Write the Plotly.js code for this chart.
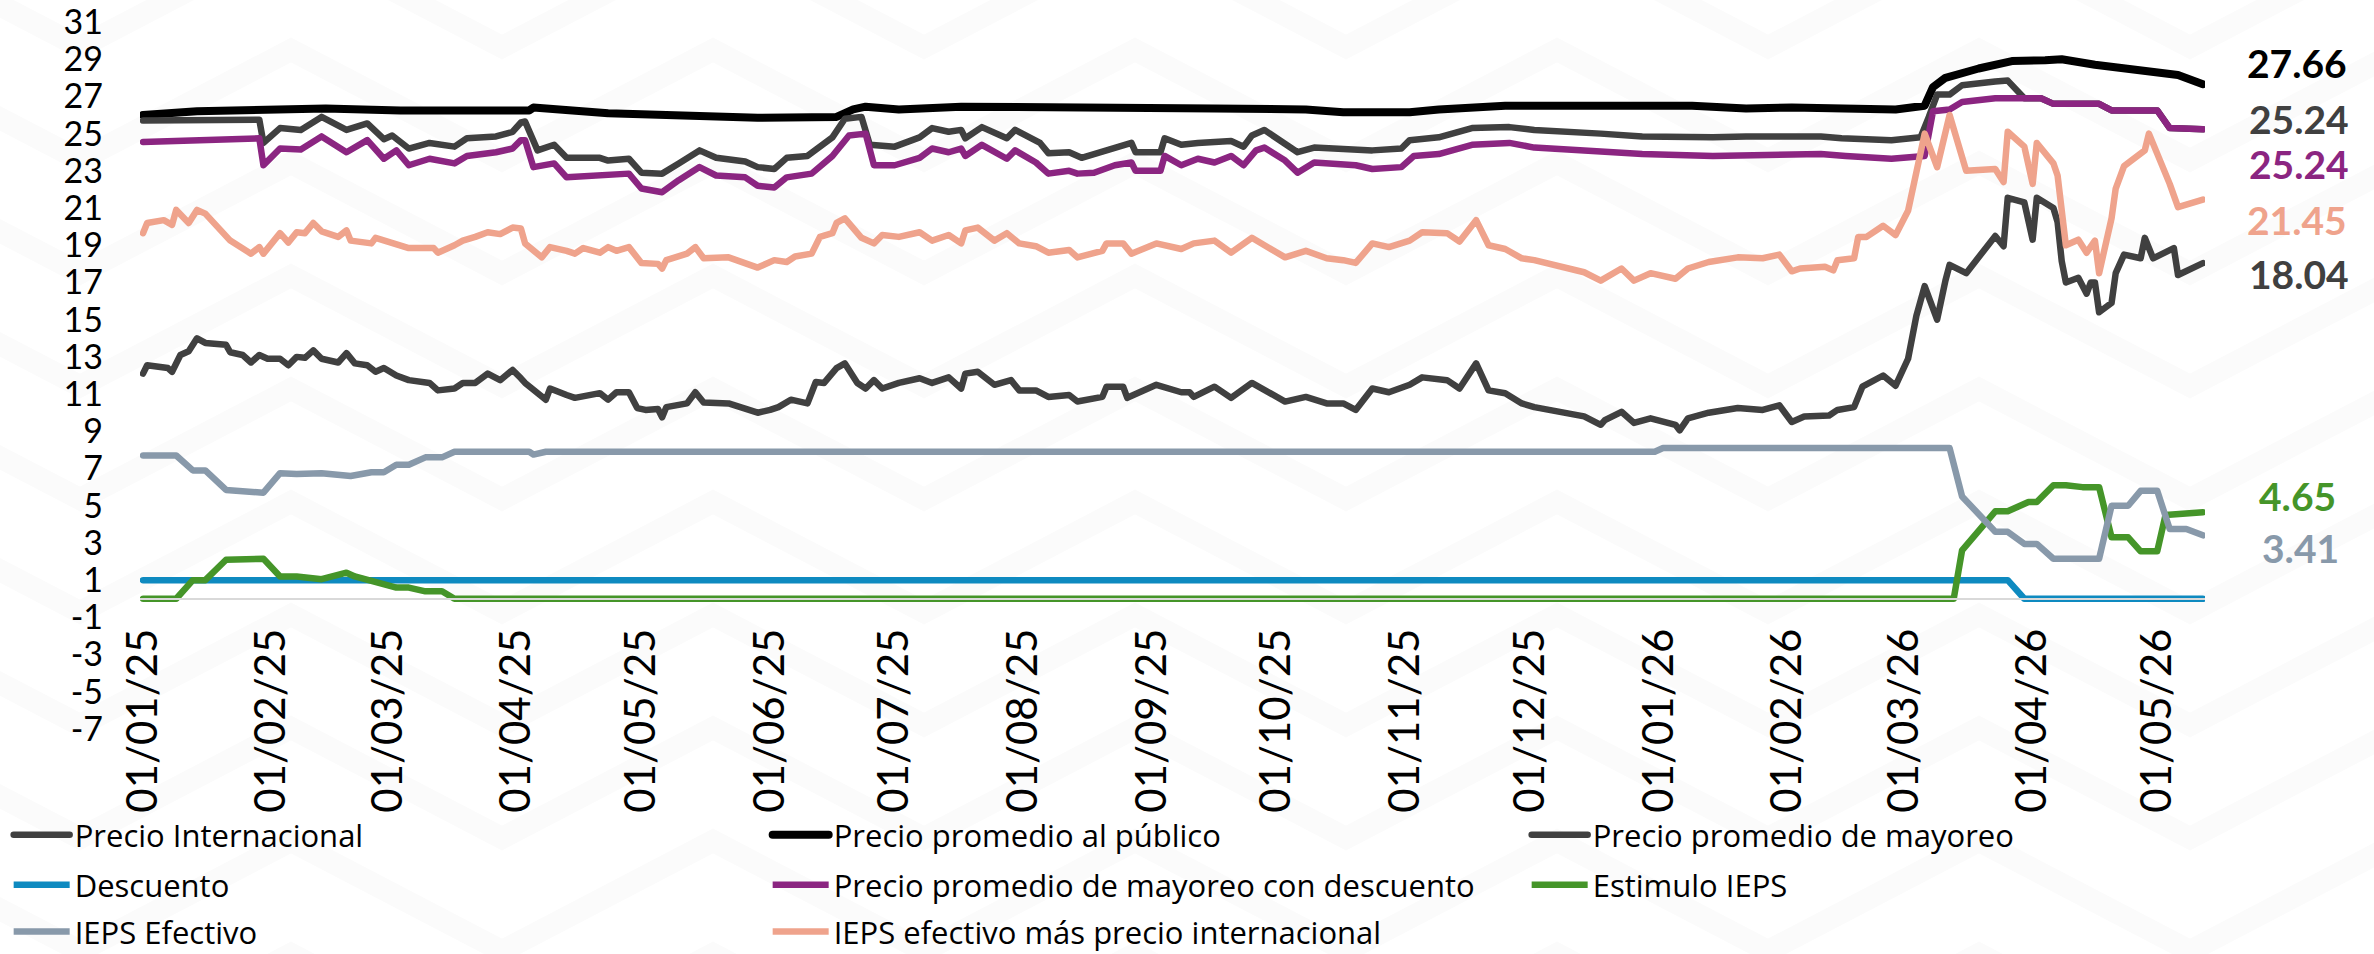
<!DOCTYPE html>
<html><head><meta charset="utf-8">
<script src="https://cdn.plot.ly/plotly-3.0.1.min.js"></script>
<style>
html,body{margin:0;padding:0;background:#fff;}
#chart{width:2374px;height:954px;}
.scatterlayer .js-line{stroke-linejoin:round;stroke-linecap:round;}
.legend .js-line{stroke-linecap:round;}
</style></head><body><div id="chart"></div>
<script>
// ---------- DATA ----------
const seriesNames = ["Precio Internacional","Precio promedio al público","Precio promedio de mayoreo","Descuento","Precio promedio de mayoreo con descuento","Estimulo IEPS","IEPS Efectivo","IEPS efectivo más precio internacional"];
const seriesColors = ["#404040","#000000","#404040","#0e8ac0","#8b2581","#459529","#8899aa","#efa38c"];

const fechasInternacional = ["2025-01-01","2025-01-02","2025-01-07","2025-01-08","2025-01-10","2025-01-12","2025-01-14","2025-01-16","2025-01-21","2025-01-22","2025-01-25","2025-01-27","2025-01-29","2025-01-31","2025-02-03","2025-02-05","2025-02-07","2025-02-09","2025-02-11","2025-02-13","2025-02-17","2025-02-19","2025-02-21","2025-02-24","2025-02-26","2025-02-28","2025-03-03","2025-03-06","2025-03-11","2025-03-13","2025-03-17","2025-03-19","2025-03-22","2025-03-25","2025-03-28","2025-03-31","2025-04-02","2025-04-03","2025-04-08","2025-04-09","2025-04-13","2025-04-15","2025-04-21","2025-04-23","2025-04-25","2025-04-28","2025-04-30","2025-05-02","2025-05-05","2025-05-06","2025-05-07","2025-05-12","2025-05-14","2025-05-16","2025-05-22","2025-05-29","2025-06-01","2025-06-03","2025-06-06","2025-06-10","2025-06-12","2025-06-14","2025-06-17","2025-06-19","2025-06-22","2025-06-24","2025-06-26","2025-06-28","2025-07-02","2025-07-07","2025-07-10","2025-07-14","2025-07-17","2025-07-18","2025-07-21","2025-07-25","2025-07-29","2025-07-31","2025-08-04","2025-08-07","2025-08-12","2025-08-14","2025-08-20","2025-08-21","2025-08-25","2025-08-26","2025-09-02","2025-09-08","2025-09-10","2025-09-11","2025-09-16","2025-09-20","2025-09-25","2025-10-03","2025-10-08","2025-10-13","2025-10-17","2025-10-20","2025-10-24","2025-10-28","2025-11-02","2025-11-05","2025-11-11","2025-11-14","2025-11-18","2025-11-21","2025-11-25","2025-11-29","2025-12-02","2025-12-10","2025-12-14","2025-12-18","2025-12-19","2025-12-23","2025-12-26","2025-12-30","2026-01-05","2026-01-06","2026-01-08","2026-01-13","2026-01-20","2026-01-26","2026-01-30","2026-02-02","2026-02-05","2026-02-11","2026-02-13","2026-02-17","2026-02-19","2026-02-24","2026-02-27","2026-03-02","2026-03-04","2026-03-06","2026-03-09","2026-03-11","2026-03-12","2026-03-16","2026-03-19","2026-03-23","2026-03-25","2026-03-26","2026-03-30","2026-04-01","2026-04-02","2026-04-06","2026-04-07","2026-04-08","2026-04-09","2026-04-12","2026-04-14","2026-04-15","2026-04-16","2026-04-17","2026-04-20","2026-04-21","2026-04-23","2026-04-27","2026-04-28","2026-04-30","2026-05-05","2026-05-06","2026-05-12"];
const precioInternacional = [12.1,12.55,12.4,12.2,13.1,13.3,14.0,13.75,13.65,13.25,13.1,12.7,13.1,12.9,12.9,12.55,13.0,12.95,13.35,12.9,12.7,13.2,12.65,12.55,12.2,12.4,12.0,11.75,11.6,11.2,11.3,11.6,11.6,12.1,11.75,12.3,11.85,11.6,10.7,11.3,10.95,10.8,11.05,10.7,11.1,11.1,10.25,10.15,10.2,9.75,10.3,10.5,11.1,10.55,10.5,10.0,10.15,10.3,10.7,10.5,11.65,11.6,12.4,12.65,11.6,11.3,11.75,11.3,11.6,11.85,11.6,11.9,11.3,12.1,12.2,11.5,11.75,11.2,11.2,10.85,10.95,10.6,10.85,11.4,11.4,10.8,11.5,11.1,11.1,10.85,11.4,10.8,11.6,10.6,10.85,10.5,10.5,10.15,11.3,11.1,11.5,11.9,11.75,11.3,12.65,11.2,11.05,10.5,10.3,10.0,9.8,9.35,9.6,10.05,9.45,9.7,9.35,9.05,9.7,10.0,10.25,10.15,10.4,9.5,9.8,9.85,10.15,10.3,11.4,12.0,11.45,12.9,15.2,16.8,15.0,17.1,17.95,17.5,18.4,19.5,18.95,21.55,21.3,19.3,21.55,21.0,20.25,18.15,17.0,17.25,16.4,17.0,17.0,15.4,15.9,17.5,18.5,18.3,19.4,18.3,18.85,17.4,18.04];

const fechasPublico = ["2025-01-01","2025-01-14","2025-02-14","2025-03-04","2025-04-04","2025-04-05","2025-04-23","2025-05-11","2025-05-29","2025-06-17","2025-06-21","2025-06-24","2025-07-02","2025-07-17","2025-08-16","2025-09-16","2025-10-08","2025-10-17","2025-11-02","2025-11-09","2025-11-25","2025-12-18","2026-01-09","2026-01-22","2026-02-02","2026-02-27","2026-03-06","2026-03-08","2026-03-11","2026-03-19","2026-03-27","2026-04-04","2026-04-08","2026-04-16","2026-04-24","2026-05-03","2026-05-06","2026-05-12"];
const precioPublico = [26.0,26.2,26.35,26.25,26.25,26.4,26.1,26.0,25.85,25.9,26.3,26.45,26.3,26.45,26.45,26.35,26.3,26.15,26.15,26.3,26.5,26.55,26.5,26.35,26.4,26.3,26.5,27.5,28.0,28.5,28.9,28.95,29.0,28.7,28.5,28.3,28.15,27.66];

const fechasMayoreo = ["2025-01-01","2025-01-27","2025-01-29","2025-01-30","2025-02-03","2025-02-08","2025-02-13","2025-02-19","2025-02-24","2025-02-28","2025-03-02","2025-03-06","2025-03-11","2025-03-17","2025-03-20","2025-03-27","2025-03-31","2025-04-02","2025-04-03","2025-04-06","2025-04-10","2025-04-13","2025-04-21","2025-04-23","2025-04-28","2025-05-01","2025-05-06","2025-05-10","2025-05-15","2025-05-19","2025-05-26","2025-05-29","2025-06-02","2025-06-05","2025-06-10","2025-06-16","2025-06-19","2025-06-23","2025-06-25","2025-07-01","2025-07-07","2025-07-10","2025-07-14","2025-07-17","2025-07-18","2025-07-22","2025-07-28","2025-07-30","2025-08-05","2025-08-07","2025-08-12","2025-08-15","2025-08-23","2025-08-27","2025-08-28","2025-09-03","2025-09-04","2025-09-08","2025-09-12","2025-09-20","2025-09-23","2025-09-25","2025-09-28","2025-10-02","2025-10-06","2025-10-10","2025-10-20","2025-10-24","2025-10-31","2025-11-02","2025-11-09","2025-11-17","2025-11-26","2025-12-02","2025-12-18","2025-12-28","2026-01-14","2026-01-22","2026-02-09","2026-02-14","2026-02-26","2026-03-05","2026-03-07","2026-03-09","2026-03-12","2026-03-15","2026-03-23","2026-03-26","2026-03-30","2026-04-03","2026-04-06","2026-04-17","2026-04-20","2026-05-01","2026-05-04","2026-05-12"];
const precioMayoreo = [25.7,25.75,25.75,24.5,25.3,25.2,25.9,25.2,25.55,24.7,24.9,24.2,24.5,24.3,24.75,24.85,25.1,25.6,25.65,24.1,24.4,23.7,23.7,23.55,23.65,22.9,22.85,23.4,24.1,23.7,23.5,23.2,23.1,23.7,23.8,24.8,25.8,25.9,24.4,24.3,24.8,25.3,25.1,25.2,24.75,25.35,24.75,25.2,24.5,23.95,24.0,23.7,24.25,24.5,24.0,24.0,24.75,24.4,24.5,24.6,24.3,24.9,25.2,24.65,24.0,24.25,24.2,24.1,24.2,24.65,24.8,25.3,25.35,25.2,25.0,24.85,24.8,24.85,24.85,24.75,24.65,24.8,25.9,27.1,27.1,27.6,27.8,27.85,26.9,26.9,26.6,26.6,26.25,26.25,25.3,25.24];

const fechasDescuento = ["2025-01-01","2026-03-26","2026-03-30","2026-05-12"];
const descuento = [1.0,1.0,0,0];

const fechasMayoreoDesc = ["2025-01-01","2025-01-29","2025-01-30","2025-02-03","2025-02-08","2025-02-13","2025-02-19","2025-02-24","2025-02-28","2025-03-03","2025-03-06","2025-03-11","2025-03-17","2025-03-20","2025-03-27","2025-03-31","2025-04-02","2025-04-03","2025-04-05","2025-04-10","2025-04-13","2025-04-23","2025-04-28","2025-05-01","2025-05-06","2025-05-10","2025-05-15","2025-05-19","2025-05-26","2025-05-29","2025-06-02","2025-06-05","2025-06-11","2025-06-16","2025-06-20","2025-06-24","2025-06-26","2025-07-01","2025-07-07","2025-07-10","2025-07-14","2025-07-17","2025-07-18","2025-07-22","2025-07-28","2025-07-30","2025-08-04","2025-08-07","2025-08-12","2025-08-14","2025-08-18","2025-08-23","2025-08-27","2025-08-28","2025-09-03","2025-09-04","2025-09-08","2025-09-12","2025-09-16","2025-09-20","2025-09-23","2025-09-26","2025-09-28","2025-10-03","2025-10-06","2025-10-10","2025-10-20","2025-10-24","2025-10-31","2025-11-03","2025-11-09","2025-11-17","2025-11-26","2025-12-02","2025-12-18","2025-12-28","2026-01-14","2026-02-09","2026-02-15","2026-02-26","2026-03-06","2026-03-08","2026-03-12","2026-03-15","2026-03-23","2026-04-03","2026-04-06","2026-04-17","2026-04-20","2026-05-01","2026-05-04","2026-05-12"];
const precioMayoreoDesc = [24.55,24.75,23.3,24.2,24.15,24.85,24.0,24.65,23.65,24.1,23.3,23.65,23.4,23.8,24.0,24.2,24.65,24.65,23.2,23.4,22.65,22.75,22.85,22.05,21.85,22.5,23.2,22.75,22.65,22.2,22.1,22.65,22.85,23.8,24.9,25.0,23.3,23.3,23.7,24.2,24.0,24.2,23.8,24.4,23.65,24.1,23.45,22.85,23.0,22.85,22.9,23.3,23.45,23.0,23.0,23.8,23.3,23.65,23.45,23.8,23.3,24.1,24.25,23.55,22.9,23.45,23.3,23.1,23.2,23.8,23.9,24.4,24.5,24.25,24.05,23.9,23.8,23.9,23.8,23.65,23.8,26.2,26.3,26.7,26.9,26.9,26.6,26.6,26.25,26.25,25.3,25.24];

const fechasEstimulo = ["2025-01-01","2025-01-09","2025-01-13","2025-01-16","2025-01-21","2025-01-30","2025-02-03","2025-02-07","2025-02-13","2025-02-19","2025-02-21","2025-02-26","2025-03-03","2025-03-06","2025-03-10","2025-03-14","2025-03-17","2026-03-13","2026-03-15","2026-03-23","2026-03-26","2026-03-31","2026-04-02","2026-04-06","2026-04-09","2026-04-13","2026-04-17","2026-04-20","2026-04-24","2026-04-27","2026-05-01","2026-05-03","2026-05-08","2026-05-12"];
const estimuloIEPS = [0,0,1.0,1.0,2.1,2.15,1.2,1.2,1.05,1.4,1.2,0.9,0.6,0.6,0.4,0.4,0,0,2.6,4.7,4.7,5.2,5.2,6.1,6.1,6.0,6.0,3.3,3.3,2.55,2.55,4.5,4.6,4.65];

const fechasIEPS = ["2025-01-01","2025-01-09","2025-01-13","2025-01-16","2025-01-21","2025-01-26","2025-01-30","2025-02-03","2025-02-07","2025-02-13","2025-02-20","2025-02-25","2025-02-28","2025-03-03","2025-03-06","2025-03-10","2025-03-14","2025-03-17","2025-04-04","2025-04-05","2025-04-08","2025-12-31","2026-01-02","2026-03-12","2026-03-15","2026-03-23","2026-03-26","2026-03-30","2026-04-02","2026-04-06","2026-04-17","2026-04-20","2026-04-24","2026-04-27","2026-05-01","2026-05-04","2026-05-08","2026-05-12"];
const iepsEfectivo = [7.7,7.7,6.9,6.9,5.85,5.75,5.7,6.75,6.7,6.75,6.6,6.8,6.8,7.2,7.2,7.6,7.6,7.9,7.9,7.75,7.9,7.9,8.1,8.1,5.5,3.6,3.6,2.95,2.95,2.15,2.15,5.0,5.0,5.8,5.8,3.75,3.75,3.41];

const fechasIEPSmasInt = ["2025-01-01","2025-01-02","2025-01-06","2025-01-08","2025-01-09","2025-01-12","2025-01-14","2025-01-16","2025-01-22","2025-01-23","2025-01-27","2025-01-29","2025-01-30","2025-02-03","2025-02-05","2025-02-07","2025-02-09","2025-02-11","2025-02-13","2025-02-17","2025-02-19","2025-02-20","2025-02-25","2025-02-26","2025-03-03","2025-03-06","2025-03-12","2025-03-13","2025-03-17","2025-03-19","2025-03-22","2025-03-25","2025-03-28","2025-03-31","2025-04-02","2025-04-03","2025-04-07","2025-04-09","2025-04-13","2025-04-15","2025-04-17","2025-04-21","2025-04-23","2025-04-25","2025-04-28","2025-05-01","2025-05-05","2025-05-06","2025-05-07","2025-05-12","2025-05-14","2025-05-16","2025-05-22","2025-05-29","2025-06-02","2025-06-05","2025-06-07","2025-06-11","2025-06-13","2025-06-16","2025-06-17","2025-06-19","2025-06-23","2025-06-26","2025-06-28","2025-07-02","2025-07-07","2025-07-10","2025-07-14","2025-07-17","2025-07-18","2025-07-21","2025-07-25","2025-07-28","2025-07-31","2025-08-04","2025-08-07","2025-08-12","2025-08-14","2025-08-20","2025-08-21","2025-08-25","2025-08-27","2025-09-02","2025-09-08","2025-09-11","2025-09-16","2025-09-20","2025-09-25","2025-10-03","2025-10-08","2025-10-13","2025-10-17","2025-10-20","2025-10-24","2025-10-28","2025-11-02","2025-11-05","2025-11-11","2025-11-14","2025-11-18","2025-11-21","2025-11-25","2025-11-29","2025-12-02","2025-12-10","2025-12-14","2025-12-18","2025-12-23","2025-12-26","2025-12-30","2026-01-05","2026-01-08","2026-01-13","2026-01-20","2026-01-26","2026-01-30","2026-02-02","2026-02-04","2026-02-10","2026-02-12","2026-02-13","2026-02-17","2026-02-18","2026-02-20","2026-02-24","2026-02-27","2026-03-02","2026-03-04","2026-03-06","2026-03-09","2026-03-11","2026-03-12","2026-03-16","2026-03-23","2026-03-25","2026-03-26","2026-03-30","2026-04-01","2026-04-02","2026-04-06","2026-04-07","2026-04-08","2026-04-09","2026-04-12","2026-04-14","2026-04-16","2026-04-17","2026-04-20","2026-04-21","2026-04-23","2026-04-28","2026-04-29","2026-04-30","2026-05-04","2026-05-06","2026-05-12"];
const iepsMasInternacional = [19.65,20.2,20.35,20.1,20.9,20.2,20.9,20.7,19.25,19.1,18.55,18.9,18.55,19.65,19.15,19.7,19.65,20.2,19.75,19.45,19.8,19.25,19.1,19.4,19.1,18.85,18.85,18.6,19.0,19.25,19.45,19.7,19.6,19.95,19.9,19.1,18.35,18.9,18.7,18.55,18.85,18.6,18.9,18.7,18.9,18.05,18.0,17.75,18.2,18.55,18.9,18.3,18.35,17.8,18.2,18.1,18.4,18.55,19.45,19.65,20.2,20.45,19.4,19.1,19.55,19.45,19.7,19.25,19.55,19.1,19.8,19.95,19.25,19.65,19.1,18.95,18.6,18.75,18.35,18.7,19.1,19.1,18.55,19.1,18.8,19.1,19.25,18.6,19.4,18.35,18.7,18.3,18.2,18.05,19.1,18.9,19.25,19.7,19.65,19.2,20.35,19.0,18.8,18.3,18.2,17.8,17.55,17.1,17.75,17.1,17.5,17.2,17.75,18.1,18.35,18.3,18.5,17.6,17.75,17.85,17.65,18.2,18.3,19.45,19.45,20.05,19.55,20.85,23.1,25.0,23.2,25.3,26.0,23.0,23.1,22.4,25.1,24.3,22.3,24.5,23.4,22.75,20.45,19.0,19.3,18.6,19.25,17.5,20.45,22.05,23.25,24.1,25.0,24.5,22.3,21.05,21.45];

const yTickVals = [-7,-5,-3,-1,1,3,5,7,9,11,13,15,17,19,21,23,25,27,29,31];
const yTickText = ["-7","-5","-3","-1","1","3","5","7","9","11","13","15","17","19","21","23","25","27","29","31"];

// ---------- TRACES ----------
const xs = [fechasInternacional,fechasPublico,fechasMayoreo,fechasDescuento,fechasMayoreoDesc,fechasEstimulo,fechasIEPS,fechasIEPSmasInt];
const ys = [precioInternacional,precioPublico,precioMayoreo,descuento,precioMayoreoDesc,estimuloIEPS,iepsEfectivo,iepsMasInternacional];
const legendOf = ["legend","legend","legend","legend2","legend2","legend2","legend3","legend3"];
const lastInRow = [false,false,true,false,false,true,false,false];
const lineWidths = [6.5,8,6.5,6.5,6.5,6.5,6.5,6.5];
const traces = seriesNames.map((n,i)=>{
  const t = {type:'scatter', mode:'lines', name:n, x:xs[i], y:ys[i],
    line:{color:seriesColors[i], width:lineWidths[i]}, legend:legendOf[i], hoverinfo:'skip'};
  if(lastInRow[i]) t.legendwidth = 450;
  return t;
});

// end-value labels
const labelSpec = [
  {i:1, dy:21, dx:42},
  {i:2, dy:10, dx:44},
  {i:4, dy:-35, dx:44},
  {i:7, dy:-20, dx:42},
  {i:0, dy:-11, dx:44},
  {i:5, dy:16, dx:54},
  {i:6, dy:-13, dx:57}
];
const FONT = 'Lato, "Open Sans", sans-serif';
const LEGFONT = '"Open Sans", Lato, sans-serif';
const annotations = labelSpec.map(s=>{
  const yv = ys[s.i][ys[s.i].length-1];
  return {x:xs[s.i][xs[s.i].length-1], y:yv, xref:'x', yref:'y', xanchor:'left', yanchor:'middle',
    xshift:s.dx, yshift:s.dy, showarrow:false, text:yv.toFixed(2),
    font:{family:FONT, size:39, color:seriesColors[s.i], weight:700}};
});

// very faint chevron watermark in the background (decoration only)
const ML = 140, MT = 22, PW = 2065, PH = 707;
const px2x = p => (p - ML) / PW, px2y = p => (MT + PH - p) / PH;
const shapes = [];
for (let n = -2; n <= 8; n++) {
  const y0 = 50 + 113 * n;
  let d = '';
  for (let k = -2; k <= 6; k++) {
    const xp = 291 + 422 * k;
    d += (d ? ' L' : 'M') + px2x(xp).toFixed(5) + ',' + px2y(y0).toFixed(5) +
         ' L' + px2x(xp + 211).toFixed(5) + ',' + px2y(y0 + 110).toFixed(5);
  }
  shapes.push({type:'path', xref:'paper', yref:'paper', path:d, layer:'below',
    line:{color:'#fbfbfb', width:22}});
}

const legendBase = {orientation:'h', xanchor:'left', yanchor:'middle', x:-0.0636,
  font:{family:LEGFONT, size:31, color:'#000'}, entrywidth:688, entrywidthmode:'pixels',
  itemwidth:56, bgcolor:'rgba(0,0,0,0)', traceorder:'normal'};

const layout = {
  width:2374, height:954,
  margin:{l:ML, r:169, t:MT, b:225, autoexpand:false},
  paper_bgcolor:'#ffffff', plot_bgcolor:'rgba(0,0,0,0)',
  font:{family:FONT, color:'#000'},
  showlegend:true,
  xaxis:{type:'date', range:['2024-12-31 06:40','2026-05-12 12:00'],
    anchor:'free', position:7/38, showline:true, linecolor:'#d9d9d9', linewidth:2,
    showgrid:false, zeroline:false, ticks:'', tickmode:'linear', tick0:'2025-01-01', dtick:'M1',
    tickformat:'%d/%m/%y', tickangle:-90, ticklabelstandoff:12, ticklabeloverflow:'allow',
    tickfont:{family:FONT, size:42, color:'#000'}},
  yaxis:{range:[-7,31], tickmode:'array', tickvals:yTickVals, ticktext:yTickText,
    showgrid:false, zeroline:false, showline:false, ticks:'', ticklabelstandoff:36, ticklabeloverflow:'allow',
    tickfont:{family:FONT, size:34, color:'#000'}},
  legend:Object.assign({}, legendBase, {y:-0.1499}),
  legend2:Object.assign({}, legendBase, {y:-0.2207}),
  legend3:Object.assign({}, legendBase, {y:-0.2870}),
  shapes:shapes,
  annotations:annotations
};

Plotly.newPlot('chart', traces, layout, {displayModeBar:false, staticPlot:true});
</script></body></html>
